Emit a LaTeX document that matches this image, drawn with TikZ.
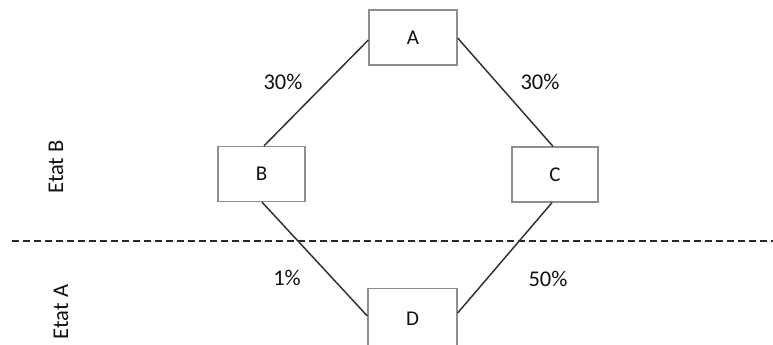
\documentclass[tikz,border=0pt]{standalone}
\usepackage{fontspec}
\setmainfont{Carlito}
\definecolor{boxgray}{HTML}{8E8E8E}
\definecolor{linegray}{HTML}{333333}
\definecolor{txt}{HTML}{111111}
\begin{document}
\begin{tikzpicture}[x=1pt,y=-1pt,
  statebox/.style={draw=boxgray,line width=1.3pt,fill=white,inner sep=0pt,font=\fontsize{21}{24}\selectfont,text=txt},
  link/.style={draw=linegray,line width=1.5pt},
  lbl/.style={font=\fontsize{22.5}{26}\selectfont,text=txt,inner sep=0pt},
  sep/.style={draw=black!85,line width=1.3pt,dash pattern=on 7pt off 4pt}]
\useasboundingbox (0,0) rectangle (773,345);
\node[statebox,minimum width=88pt,minimum height=55pt] (A) at (413,37.5) {A};
\node[statebox,minimum width=87pt,minimum height=55pt] (B) at (261.5,174) {B};
\node[statebox,minimum width=86pt,minimum height=55pt] (C) at (555,174.5) {C};
\node[statebox,minimum width=89pt,minimum height=60pt,anchor=north] (D) at (412.5,288) {D};
\coordinate (sl) at (12,241);
\coordinate (sr) at (773,241);
\draw[sep] (sl) -- (sr);
\draw[link] (A.west |- 0,40) -- (B.north -| 264,0);
\draw[link] (A.east |- 0,38) -- (C.north -| 553,0);
\draw[link] (B.south -| 262,0) -- (D.west |- 0,316);
\draw[link] (C.south -| 552,0) -- (D.east |- 0,313);
\node[lbl] (l1) at (283,82) {30\%};
\node[lbl] (l2) at (540,82) {30\%};
\node[lbl] (l3) at (287,278) {1\%};
\node[lbl] (l4) at (548,279) {50\%};
\node[lbl,rotate=90] (eb) at (56,167) {Etat B};
\node[lbl,rotate=90] (ea) at (61,312) {Etat A};
\end{tikzpicture}
\end{document}
